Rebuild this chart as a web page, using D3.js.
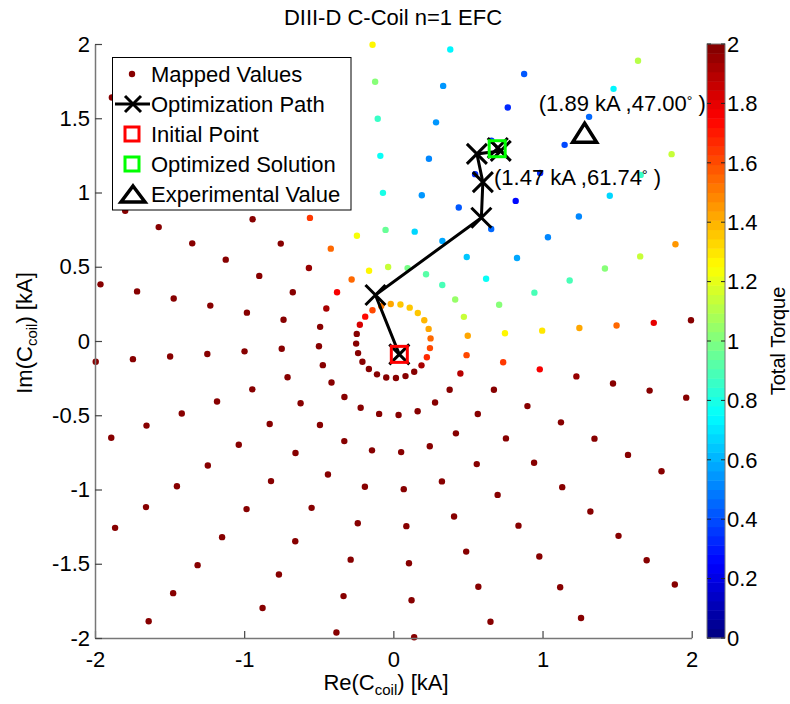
<!DOCTYPE html>
<html>
<head>
<meta charset="utf-8">
<script src="https://cdn.jsdelivr.net/npm/d3@7"></script>
<style>
  body { margin: 0; background: #fff; }
  text { font-family: "Liberation Sans", Arial, sans-serif; fill: #000; }
</style>
</head>
<body>
<script>
// Coil amplitude rings [kA] and phase spokes [deg] of the mapped grid
const amplitudes = [0.25, 0.5, 0.75, 1.0, 1.25, 1.5, 1.75, 2.0, 2.25, 2.5];
const phases = [4, 19, 34, 49, 64, 79, 94, 109, 124, 139, 154, 169,
                184, 199, 214, 229, 244, 259, 274, 289, 304, 319, 334, 349];

// Total torque, one row per phase, one column per amplitude
const torque = [
    [1.55, 1.42, 1.28, 1.30, 1.43, 1.56, 1.80, 2, 2, 2],     // 4
    [1.42, 1.15, 1.00, 0.88, 0.90, 1.00, 1.14, 1.46, 2, 2],  // 19
    [1.40, 1.04, 0.76, 0.58, 0.53, 0.53, 0.68, 0.86, 1.15, 2], // 34
    [1.36, 0.90, 0.64, 0.45, 0.28, 0.33, 0.40, 0.45, 0.72, 1.12], // 49
    [1.35, 0.92, 0.58, 0.42, 0.34, 0.35, 0.32, 0.42, 2, 2],  // 64
    [1.37, 0.97, 0.68, 0.55, 0.52, 0.55, 0.56, 0.72, 2, 2],  // 79
    [1.42, 1.15, 0.94, 0.80, 0.76, 0.85, 1.02, 1.26, 2, 2],  // 94
    [1.50, 1.28, 1.22, 1.35, 1.50, 1.65, 1.80, 1.95, 2, 2],  // 109
    [1.62, 1.56, 1.56, 1.65, 1.80, 1.90, 2, 2, 2, 2],        // 124
    [1.72, 1.75, 1.95, 2, 2, 2, 2, 2, 2, 2],                 // 139
    [1.82, 1.92, 2, 2, 2, 2, 2, 2, 2, 2],                    // 154
    [2, 2, 2, 2, 2, 2, 2, 2, 2, 2],                          // 169
    [2, 2, 2, 2, 2, 2, 2, 2, 2, 2],                          // 184
    [2, 2, 2, 2, 2, 2, 2, 2, 2, 2],                          // 199
    [2, 2, 2, 2, 2, 2, 2, 2, 2, 2],                          // 214
    [2, 2, 2, 2, 2, 2, 2, 2, 2, 2],                          // 229
    [2, 2, 2, 2, 2, 2, 2, 2, 2, 2],                          // 244
    [2, 2, 2, 2, 2, 2, 2, 2, 2, 2],                          // 259
    [2, 2, 2, 2, 2, 2, 2, 2, 2, 2],                          // 274
    [2, 2, 2, 2, 2, 2, 2, 2, 2, 2],                          // 289
    [2, 2, 2, 2, 2, 2, 2, 2, 2, 2],                          // 304
    [1.92, 2, 2, 2, 2, 2, 2, 2, 2, 2],                       // 319
    [1.68, 1.88, 2, 2, 2, 2, 2, 2, 2, 2],                    // 334
    [1.62, 1.60, 1.65, 1.78, 1.94, 2, 2, 2, 2, 2]            // 349
];

// Optimization path (Re, Im) in kA
const pathRe = [0.04, -0.12, 0.59, 0.60, 0.56, 0.72, 0.70];
const pathIm = [-0.09, 0.31, 0.83, 1.07, 1.26, 1.28, 1.30];

// Optimized solution and experimental value (amplitude kA, phase deg)
const optimized = { amp: 1.47, phase: 61.74 };
const experimental = { amp: 1.89, phase: 47.00 };

// Tick labels
const xTicks = [-2, -1, 0, 1, 2];
const yTicks = [-2, -1.5, -1, -0.5, 0, 0.5, 1, 1.5, 2];
const cTicks = [0, 0.2, 0.4, 0.6, 0.8, 1, 1.2, 1.4, 1.6, 1.8, 2];

const legendLabels = ["Mapped Values", "Optimization Path", "Initial Point",
                      "Optimized Solution", "Experimental Value"];

// ---------------------------------------------------------------
const W = 790, H = 704;
const FONT = 22;
const AXIS_GREY = "#777";

const svg = d3.select("body").append("svg")
    .attr("width", W)
    .attr("height", H);

const x = d3.scaleLinear().domain([-2, 2]).range([95, 691.7]);
const y = d3.scaleLinear().domain([-2, 2]).range([638, 44]);

// MATLAB jet(64)
function jet(v) {
    const t = Math.max(0, Math.min(1, v / 2));
    const u = (Math.min(63, Math.floor(t * 64)) + 0.5) / 64;
    const f = s => Math.round(255 * Math.max(0, Math.min(1, 1.5 - Math.abs(4 * u - s))));
    return `rgb(${f(3)},${f(2)},${f(1)})`;
}

const rad = d => d * Math.PI / 180;

// Build the grid points from the polar arrays
const points = [];
phases.forEach((p, i) => {
    amplitudes.forEach((a, j) => {
        const re = a * Math.cos(rad(p));
        const im = a * Math.sin(rad(p));
        if (Math.abs(re) <= 2 && Math.abs(im) <= 2) {
            points.push({ re, im, v: torque[i][j] });
        }
    });
});

// Mapped values
svg.append("g")
    .selectAll("circle")
    .data(points)
    .join("circle")
    .attr("cx", d => x(d.re))
    .attr("cy", d => y(d.im))
    .attr("r", 3.2)
    .attr("fill", d => jet(d.v));

// X marker path helper
function xMark(s) {
    return `M${-s},${-s}L${s},${s}M${-s},${s}L${s},${-s}`;
}

// Optimization path line + markers
const pathData = pathRe.map((re, i) => ({ re, im: pathIm[i] }));

svg.append("path")
    .datum(pathData)
    .attr("d", d3.line().x(d => x(d.re)).y(d => y(d.im)))
    .attr("fill", "none")
    .attr("stroke", "#000")
    .attr("stroke-width", 3);

svg.append("g")
    .selectAll("path")
    .data(pathData)
    .join("path")
    .attr("transform", d => `translate(${x(d.re)},${y(d.im)})`)
    .attr("d", xMark(10))
    .attr("stroke", "#000")
    .attr("stroke-width", 3);

// Initial point square
const first = pathData[0];
svg.append("rect")
    .attr("x", x(first.re) - 8).attr("y", y(first.im) - 8)
    .attr("width", 16).attr("height", 16)
    .attr("fill", "none")
    .attr("stroke", "#ff0000")
    .attr("stroke-width", 3);

// Optimized solution square
const optRe = optimized.amp * Math.cos(rad(optimized.phase));
const optIm = optimized.amp * Math.sin(rad(optimized.phase));
svg.append("rect")
    .attr("x", x(optRe) - 8).attr("y", y(optIm) - 8)
    .attr("width", 16).attr("height", 16)
    .attr("fill", "none")
    .attr("stroke", "#00ff00")
    .attr("stroke-width", 3);

// Experimental value triangle
function triangle(w, h) {
    return `M0,${-h / 2}L${w / 2},${h / 2}L${-w / 2},${h / 2}Z`;
}
const expRe = experimental.amp * Math.cos(rad(experimental.phase));
const expIm = experimental.amp * Math.sin(rad(experimental.phase));
svg.append("path")
    .attr("transform", `translate(${x(expRe) - 1},${y(expIm) - 3})`)
    .attr("d", triangle(24, 19))
    .attr("fill", "none")
    .attr("stroke", "#000")
    .attr("stroke-width", 3.5)
    .attr("stroke-linejoin", "miter");

// Annotation labels
function annot(re, im, amp, phase) {
    const t = svg.append("text")
        .attr("x", x(re))
        .attr("y", y(im))
        .attr("dy", "0.35em")
        .style("font-size", FONT + "px");
    t.append("tspan").text(`(${amp.toFixed(2)} kA ,${phase.toFixed(2)}`);
    t.append("tspan").attr("dy", -5).style("font-size", "14px").text("°");
    t.append("tspan").attr("dy", 5).text(" )");
}
annot(0.975, 1.60, experimental.amp, experimental.phase);
annot(0.675, 1.105, optimized.amp, optimized.phase);

// Axes (MATLAB style, ticks inward, no box on top/right)
const xAxis = svg.append("g")
    .attr("transform", `translate(0,${y(-2)})`)
    .call(d3.axisBottom(x).tickValues(xTicks).tickSizeInner(-7).tickSizeOuter(0)
        .tickPadding(13).tickFormat(d => String(d)));

const yAxis = svg.append("g")
    .attr("transform", `translate(${x(-2)},0)`)
    .call(d3.axisLeft(y).tickValues(yTicks).tickSizeInner(-7).tickSizeOuter(0)
        .tickPadding(5).tickFormat(d => String(d)));

[xAxis, yAxis].forEach(ax => {
    ax.select(".domain").attr("stroke", AXIS_GREY).attr("stroke-width", 1.5);
    ax.selectAll(".tick line").attr("stroke", "#444").attr("stroke-width", 1.2);
    ax.selectAll(".tick text")
        .attr("fill", "#000")
        .style("font-size", FONT + "px")
        .style("font-family", '"Liberation Sans", Arial, sans-serif');
});

// Legend
const legend = svg.append("g");
legend.append("rect")
    .attr("x", 112.5).attr("y", 57.5)
    .attr("width", 238.5).attr("height", 152.5)
    .attr("fill", "#fff")
    .attr("stroke", "#000")
    .attr("stroke-width", 1);

const legendItems = legend.selectAll(".legend-item")
    .data(legendLabels)
    .join("g")
    .attr("class", "legend-item")
    .attr("transform", (d, i) => `translate(0,${74 + i * 30})`);

legendItems.append("text")
    .attr("x", 151)
    .attr("dy", "0.35em")
    .style("font-size", FONT + "px")
    .text(d => d);

legendItems.each(function (d, i) {
    const g = d3.select(this);
    if (i === 0) {
        g.append("circle").attr("cx", 132).attr("r", 3.2).attr("fill", jet(2));
    } else if (i === 1) {
        g.append("line").attr("x1", 115).attr("x2", 150)
            .attr("stroke", "#000").attr("stroke-width", 3);
        g.append("path").attr("transform", "translate(133,0)")
            .attr("d", xMark(8)).attr("stroke", "#000").attr("stroke-width", 3);
    } else if (i === 2 || i === 3) {
        g.append("rect").attr("x", 125).attr("y", -7).attr("width", 14).attr("height", 14)
            .attr("fill", "none")
            .attr("stroke", i === 2 ? "#ff0000" : "#00ff00")
            .attr("stroke-width", 3);
    } else {
        g.append("path").attr("transform", "translate(133,0)")
            .attr("d", triangle(24, 16))
            .attr("fill", "none").attr("stroke", "#000").attr("stroke-width", 3.5);
    }
});

// Title and axis labels
svg.append("text")
    .attr("x", 393).attr("y", 25)
    .attr("text-anchor", "middle")
    .style("font-size", "22px")
    .text("DIII-D C-Coil n=1 EFC");

function subLabel(sel, pre, sub, post) {
    sel.append("tspan").text(pre);
    sel.append("tspan").attr("dy", 5).style("font-size", "15px").text(sub);
    sel.append("tspan").attr("dy", -5).text(post);
}

const xLabel = svg.append("text")
    .attr("x", 386).attr("y", 690)
    .attr("text-anchor", "middle")
    .style("font-size", FONT + "px");
subLabel(xLabel, "Re(C", "coil", ") [kA]");

const yLabel = svg.append("text")
    .attr("transform", "translate(32,333) rotate(-90)")
    .attr("text-anchor", "middle")
    .style("font-size", FONT + "px");
subLabel(yLabel, "Im(C", "coil", ") [kA]");

// Colorbar
const cb = { x: 707, w: 18 };
const c = d3.scaleLinear().domain([0, 2]).range([638, 44]);
const levels = d3.range(64);
svg.append("g")
    .selectAll("rect")
    .data(levels)
    .join("rect")
    .attr("x", cb.x)
    .attr("y", k => c((k + 1) * 2 / 64))
    .attr("width", cb.w)
    .attr("height", k => c(k * 2 / 64) - c((k + 1) * 2 / 64) + 0.5)
    .attr("fill", k => jet((k + 0.5) * 2 / 64));

svg.append("rect")
    .attr("x", cb.x).attr("y", c(2))
    .attr("width", cb.w).attr("height", c(0) - c(2))
    .attr("fill", "none")
    .attr("stroke", AXIS_GREY)
    .attr("stroke-width", 1);

const cbTicks = svg.append("g").selectAll("g")
    .data(cTicks)
    .join("g")
    .attr("transform", d => `translate(0,${c(d)})`);

cbTicks.append("line")
    .attr("x1", cb.x).attr("x2", cb.x + 4)
    .attr("stroke", "#222").attr("stroke-width", 1);
cbTicks.append("line")
    .attr("x1", cb.x + cb.w - 4).attr("x2", cb.x + cb.w)
    .attr("stroke", "#222").attr("stroke-width", 1);
cbTicks.append("text")
    .attr("x", cb.x + cb.w + 2)
    .attr("dy", "0.35em")
    .style("font-size", FONT + "px")
    .text(d => String(d));

svg.append("text")
    .attr("transform", "translate(785,341) rotate(-90)")
    .attr("text-anchor", "middle")
    .style("font-size", "20px")
    .text("Total Torque");
</script>
</body>
</html>
